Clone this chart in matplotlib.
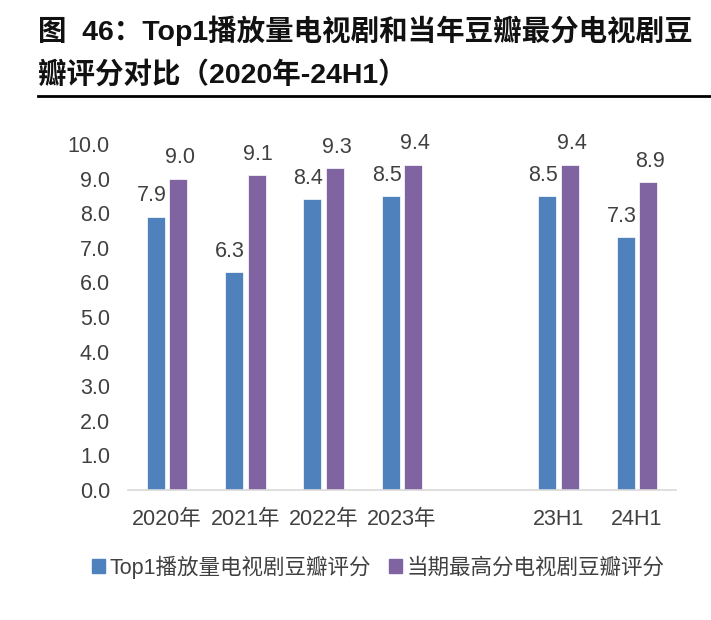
import matplotlib
matplotlib.use('Agg')
import matplotlib.pyplot as plt
from matplotlib.patches import Patch
import numpy as np

# 数据
categories = ['2020年', '2021年', '2022年', '2023年', '', '23H1', '24H1']
top1_scores = [7.9, 6.3, 8.4, 8.5, None, 8.5, 7.3]
best_scores = [9.0, 9.1, 9.3, 9.4, None, 9.4, 8.9]
series_names = ['Top1播放量电视剧豆瓣评分', '当期最高分电视剧豆瓣评分']
yticks = [0, 1, 2, 3, 4, 5, 6, 7, 8, 9, 10]

FONT = ['Liberation Sans', 'Noto Sans CJK SC', 'DejaVu Sans']
plt.rcParams['font.family'] = FONT
TXT = '#404040'
BLUE = '#4F81BD'
PURPLE = '#8064A2'
FS = 15.5

fig = plt.figure(figsize=(7.11, 6.2), dpi=100)

# 标题
fig.text(38 / 711, 1 - 31 / 620, '图  46：Top1播放量电视剧和当年豆瓣最分电视剧豆',
         fontsize=20.5, fontweight='bold', color='#111111', va='center', ha='left')
fig.text(38 / 711, 1 - 75 / 620, '瓣评分对比（2020年-24H1）',
         fontsize=20.5, fontweight='bold', color='#111111', va='center', ha='left')
fig.add_artist(plt.Line2D([38 / 711, 1.0], [1 - 96 / 620, 1 - 96 / 620],
                          color='black', linewidth=2))

ax = fig.add_axes([128 / 711, 1 - 490 / 620, 548 / 711, 346 / 620])

x = np.arange(len(categories))
w = 0.23
off = 0.145
for xi, a, b in zip(x, top1_scores, best_scores):
    if a is None:
        continue
    ax.bar(xi - off, a, w, color=BLUE, edgecolor='white', linewidth=0.5)
    ax.bar(xi + off, b, w, color=PURPLE, edgecolor='white', linewidth=0.5)
    ax.text(xi - off - 0.05, a + 0.3, f'{a:.1f}', ha='center', va='bottom',
            fontsize=FS, color=TXT)
    ax.text(xi + off + 0.02, b + 0.3, f'{b:.1f}', ha='center', va='bottom',
            fontsize=FS, color=TXT)

ax.set_xlim(-0.5, len(categories) - 0.5)
ax.set_ylim(0, 10)
ax.set_yticks(yticks)
ax.set_yticklabels([f'{v:.1f}' for v in yticks], fontsize=FS, color=TXT)
ax.set_xticks(x)
ax.set_xticklabels(categories, fontsize=FS, color=TXT)
ax.tick_params(axis='both', length=0)
ax.tick_params(axis='y', pad=13)
ax.tick_params(axis='x', pad=14)
for s in ['top', 'right', 'left']:
    ax.spines[s].set_visible(False)
ax.spines['bottom'].set_color('#D9D9D9')
ax.spines['bottom'].set_linewidth(1.2)

handles = [Patch(color=BLUE, label=series_names[0]),
           Patch(color=PURPLE, label=series_names[1])]
fig.legend(handles=handles, loc='center', bbox_to_anchor=(0.532, 1 - 567 / 620),
           ncol=2, frameon=False, fontsize=FS, handlelength=0.6, handleheight=0.6,
           handletextpad=0.25, columnspacing=0.8, labelcolor=TXT)

fig.savefig('out.png', dpi=100)
